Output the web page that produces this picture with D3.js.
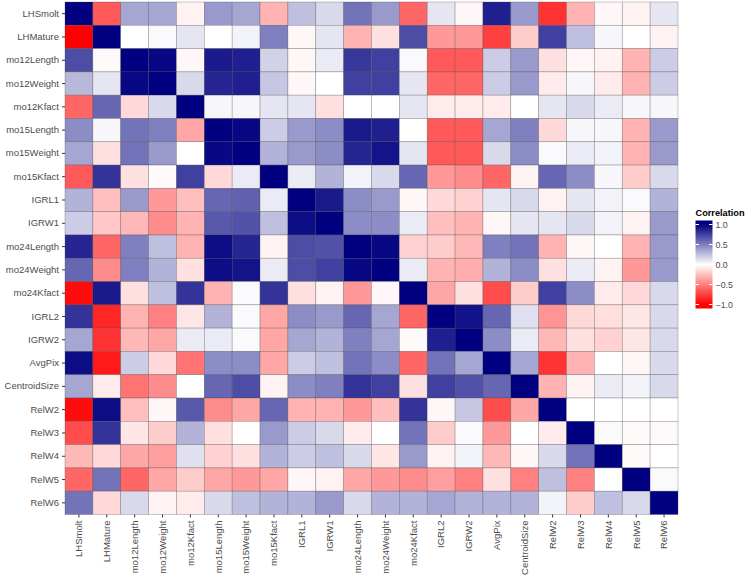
<!DOCTYPE html>
<html><head><meta charset="utf-8">
<script src="https://cdn.jsdelivr.net/npm/d3@7"></script>
<style>body{margin:0;background:#fff;}text{font-family:Arial,"Liberation Sans",sans-serif;}</style>
</head><body><svg id="c" width="747" height="580"></svg>
<script>
const vars = ["LHSmolt","LHMature","mo12Length","mo12Weight","mo12Kfact","mo15Length","mo15Weight","mo15Kfact","IGRL1","IGRW1","mo24Length","mo24Weight","mo24Kfact","IGRL2","IGRW2","AvgPix","CentroidSize","RelW2","RelW3","RelW4","RelW5","RelW6"];
const LHSmolt      = [1,-0.65,0.35,0.35,-0.05,0.4,0.35,-0.3,0.25,0.15,0.55,0.4,-0.6,0.1,-0.03,0.88,0.4,-0.8,-0.3,-0.03,-0.05,0.1];
const LHMature     = [-1,1,0,0.02,0.1,0,0.05,0.5,-0.03,0.1,-0.3,-0.12,0.7,-0.4,-0.4,-0.75,-0.2,0.75,0.25,0.03,0,-0.05];
const mo12Length   = [0.7,-0.02,1,0.97,-0.03,0.9,0.88,0.18,-0.03,0.08,0.78,0.75,0.02,-0.65,-0.65,0.2,0.4,-0.12,-0.03,-0.05,-0.3,0.2];
const mo12Weight   = [0.28,0.1,0.97,1,0.15,0.85,0.88,0.22,-0.03,0,0.75,0.75,0.1,-0.6,-0.6,0.2,0.4,-0.08,0.03,-0.08,-0.3,0.2];
const mo12Kfact    = [-0.6,0.6,-0.15,0.15,1,0.03,0.03,0.1,0.1,-0.12,0,0,0.1,-0.08,-0.08,-0.08,0,0.1,0.15,0.08,0.03,0.03];
const mo15Length   = [0.45,0.03,0.55,0.5,-0.35,1,0.97,0.2,0.4,0.45,0.9,0.88,0,-0.65,-0.65,0.35,0.5,-0.15,0.03,0.03,-0.3,0.4];
const mo15Weight   = [0.35,-0.12,0.55,0.4,0,0.97,1,0.3,0.4,0.45,0.85,0.92,0.1,-0.65,-0.65,0.15,0.45,0.02,0.08,0.05,-0.3,0.4];
const mo15Kfact    = [-0.65,0.8,-0.12,-0.02,0.75,-0.15,0.08,1,0.08,0.3,0.05,0.15,0.6,-0.4,-0.45,-0.6,-0.05,0.6,0.45,0.03,-0.2,0.15];
const IGRL1        = [0.3,-0.25,0.4,-0.4,-0.25,0.6,0.62,0.08,1,0.9,0.45,0.4,-0.03,-0.15,-0.18,0.1,0.15,-0.05,0.1,0.05,0.02,0.3];
const IGRW1        = [0.2,-0.22,-0.28,-0.45,-0.3,0.65,0.68,0.25,0.95,1,0.45,0.45,0.08,-0.25,-0.3,-0.03,0.1,0.1,0.15,0.05,-0.05,0.4];
const mo24Length   = [0.85,-0.6,0.5,0.25,-0.3,0.95,0.85,-0.05,0.7,0.68,1,0.97,-0.18,-0.2,-0.28,0.5,0.55,-0.3,-0.03,0,-0.3,0.4];
const mo24Weight   = [0.6,-0.45,0.5,0.3,-0.12,0.95,0.92,0.08,0.7,0.75,0.97,1,0.08,-0.3,-0.32,0.3,0.45,-0.12,0.08,-0.05,-0.4,0.4];
const mo24Kfact    = [-0.95,0.9,-0.12,0.25,0.8,-0.3,0.02,0.8,-0.12,-0.05,-0.4,-0.03,1,-0.35,-0.12,-0.7,-0.2,0.75,0.45,-0.08,-0.15,0.15];
const IGRL2        = [0.8,-0.85,-0.3,-0.5,-0.1,0.3,0.02,-0.35,0.45,0.4,0.6,0.35,-0.6,1,0.93,0.6,0.12,-0.42,-0.15,-0.13,-0.1,0.15];
const IGRW2        = [0.35,-0.8,-0.28,-0.35,0.08,0.08,0.02,-0.35,0.35,0.3,0.5,0.35,-0.02,0.88,1,0.45,0.08,-0.28,-0.12,-0.18,-0.1,0.15];
const AvgPix       = [0.95,-0.9,0.2,-0.15,-0.55,0.45,0.45,-0.35,0.2,0.25,0.55,0.45,-0.6,0.55,0.35,1,0.35,-0.8,-0.3,0,-0.03,0.15];
const CentroidSize = [0.35,-0.08,-0.55,-0.45,0,0.6,0.7,-0.05,0.45,0.5,0.8,0.75,-0.12,0.75,0.68,0.6,1,-0.3,-0.05,0.08,0.05,0.15];
const RelW2        = [-0.95,0.95,-0.25,-0.03,0.65,-0.45,-0.35,0.6,-0.3,-0.3,-0.4,-0.25,0.8,-0.03,0.22,-0.7,-0.35,1,0,0,0,0];
const RelW3        = [-0.7,0.8,-0.1,-0.2,0.3,-0.12,0,0.4,0.2,0.15,-0.08,0,0.55,-0.2,0.02,-0.4,0,-0.08,1,0.02,-0.02,-0.02];
const RelW4        = [-0.28,-0.15,-0.35,-0.38,0.12,-0.18,-0.12,0.3,0.2,0.25,0.15,-0.1,0.4,-0.05,0.05,-0.28,-0.03,0.15,0.55,1,-0.02,0];
const RelW5        = [-0.6,0.55,-0.6,-0.35,-0.2,-0.35,-0.4,-0.35,-0.03,-0.05,-0.35,-0.4,-0.45,-0.38,-0.5,-0.12,-0.5,0.25,-0.5,0,1,0.02];
const RelW6        = [0.55,-0.15,0.15,-0.05,-0.08,0.15,0.25,0.3,0.3,0.4,0.15,0.3,0.3,0.35,0.3,0.3,0.3,0.05,-0.2,0.25,0.15,1];
const rows = [LHSmolt,LHMature,mo12Length,mo12Weight,mo12Kfact,mo15Length,mo15Weight,mo15Kfact,IGRL1,IGRW1,mo24Length,mo24Weight,mo24Kfact,IGRL2,IGRW2,AvgPix,CentroidSize,RelW2,RelW3,RelW4,RelW5,RelW6];
const legendTicks = [1.0,0.5,0.0,-0.5,-1.0];

const cells = [];
rows.forEach((r,i)=>r.forEach((v,j)=>cells.push({row:vars[i],col:vars[j],v})));

const svg = d3.select("#c");
const L=65, R=678, T=2, B=514.5;
const x = d3.scaleBand().domain(vars).range([L,R]);
const y = d3.scaleBand().domain(vars).range([T,B]);
const color = d3.scaleLinear().domain([-1,0,1]).range(["#FF0000","#FFFFFF","#000080"]).interpolate(d3.interpolateRgb).clamp(true);

svg.append("g").selectAll("rect").data(cells).join("rect")
  .attr("x",d=>x(d.col)).attr("y",d=>y(d.row))
  .attr("width",x.bandwidth()).attr("height",y.bandwidth())
  .attr("fill",d=>color(d.v)).attr("stroke","#404040").attr("stroke-opacity",0.45).attr("stroke-width",0.6);

const ax = svg.append("g").attr("transform",`translate(0,${B})`).call(d3.axisBottom(x).tickSize(3).tickPadding(3));
ax.select(".domain").remove();
ax.selectAll("line").attr("stroke","#333");
ax.selectAll("text").attr("transform","rotate(-90)").attr("text-anchor","end")
  .attr("x",-6).attr("y",0).attr("dy","0.35em").attr("fill","#4d4d4d").attr("font-size","9.5px");

const ay = svg.append("g").attr("transform",`translate(${L},0)`).call(d3.axisLeft(y).tickSize(3).tickPadding(3));
ay.select(".domain").remove();
ay.selectAll("line").attr("stroke","#333");
ay.selectAll("text").attr("fill","#4d4d4d").attr("font-size","9.5px");

// legend
const lg = svg.append("g");
lg.append("text").attr("x",695.5).attr("y",216).attr("font-size","9.2px").attr("font-weight","bold").attr("fill","#000").text("Correlation");
const ly = d3.scaleLinear().domain([1,-1]).range([224.5,304.5]);
const defs = svg.append("defs");
const grad = defs.append("linearGradient").attr("id","g").attr("x1",0).attr("x2",0).attr("y1",0).attr("y2",1);
const steps = d3.range(0,41).map(k=>1.1-k*2.2/40);
steps.forEach((v,k)=>grad.append("stop").attr("offset",k/40).attr("stop-color",color(v)));
lg.append("rect").attr("x",695.5).attr("y",ly(1.1)).attr("width",17).attr("height",ly(-1.1)-ly(1.1)).attr("fill","url(#g)");
legendTicks.forEach(t=>{
  lg.append("line").attr("x1",695.5).attr("x2",699).attr("y1",ly(t)).attr("y2",ly(t)).attr("stroke","#fff").attr("stroke-width",1);
  lg.append("line").attr("x1",709).attr("x2",712.5).attr("y1",ly(t)).attr("y2",ly(t)).attr("stroke","#fff").attr("stroke-width",1);
  lg.append("text").attr("x",715.5).attr("y",ly(t)).attr("dy","0.35em").attr("font-size","8.8px").attr("fill","#4d4d4d").text(d3.format(".1f")(t));
});
</script></body></html>
